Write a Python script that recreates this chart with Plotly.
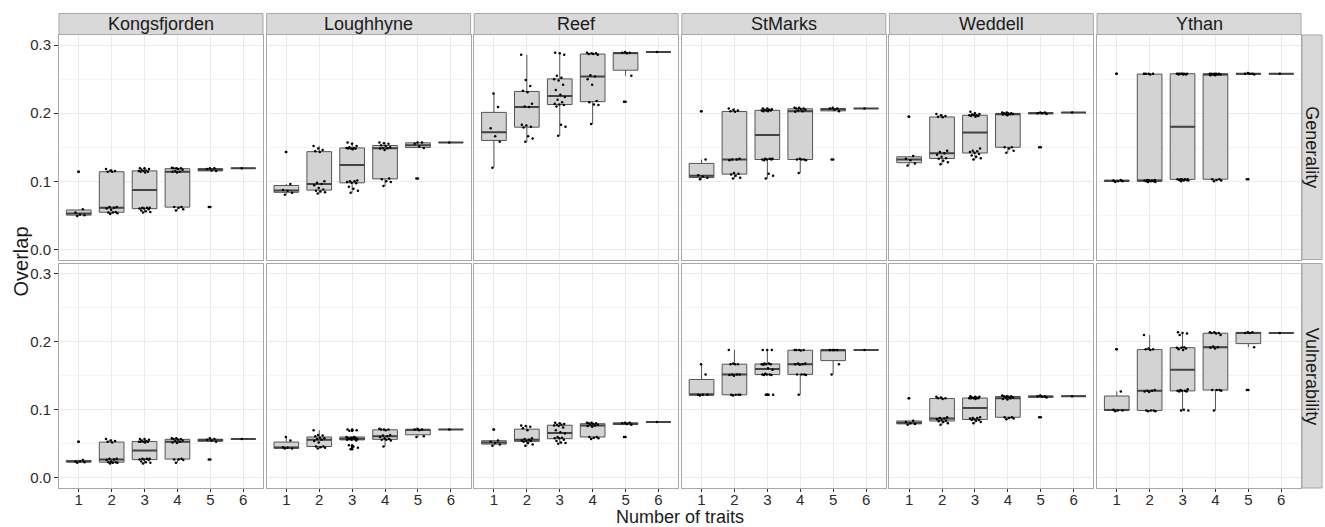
import numpy as np
import plotly.graph_objects as go

W, H = 1325, 527

sites = ["Kongsfjorden", "Loughhyne", "Reef", "StMarks", "Weddell", "Ythan"]
metrics = ["Generality", "Vulnerability"]
traits = [1, 2, 3, 4, 5, 6]
y_ticks = [0.0, 0.1, 0.2, 0.3]
y_tick_labels = ["0.0", "0.1", "0.2", "0.3"]
y_minor = [0.05, 0.15, 0.25]

# ---- Generality overlap, one list per number of traits ----
kong_gen = [
    [0.049, 0.050, 0.051, 0.054, 0.059, 0.114],
    [0.052, 0.053, 0.054, 0.054, 0.055, 0.058, 0.060, 0.061, 0.062, 0.062, 0.114, 0.114, 0.115, 0.116, 0.118],
    [0.054, 0.055, 0.056, 0.057, 0.059, 0.060, 0.060, 0.061, 0.061, 0.061, 0.113, 0.114, 0.114, 0.115, 0.115, 0.116, 0.117, 0.118, 0.119, 0.119],
    [0.057, 0.059, 0.061, 0.062, 0.062, 0.113, 0.114, 0.114, 0.115, 0.117, 0.118, 0.119, 0.119, 0.119, 0.120],
    [0.062, 0.115, 0.116, 0.118, 0.119, 0.119],
    [0.119],
]
lough_gen = [
    [0.080, 0.083, 0.086, 0.087, 0.096, 0.143],
    [0.082, 0.084, 0.085, 0.086, 0.088, 0.090, 0.094, 0.096, 0.098, 0.100, 0.143, 0.144, 0.146, 0.148, 0.152],
    [0.083, 0.086, 0.089, 0.092, 0.097, 0.098, 0.099, 0.100, 0.100, 0.101, 0.147, 0.148, 0.148, 0.148, 0.149, 0.149, 0.150, 0.152, 0.155, 0.157],
    [0.093, 0.099, 0.100, 0.103, 0.104, 0.146, 0.148, 0.1485, 0.149, 0.150, 0.152, 0.153, 0.155, 0.156, 0.157],
    [0.104, 0.149, 0.151, 0.155, 0.157, 0.157],
    [0.157],
]
reef_gen = [
    [0.120, 0.158, 0.166, 0.178, 0.209, 0.229],
    [0.158, 0.163, 0.166, 0.179, 0.180, 0.182, 0.183, 0.209, 0.210, 0.214, 0.231, 0.233, 0.240, 0.249, 0.286],
    [0.167, 0.180, 0.183, 0.210, 0.212, 0.213, 0.214, 0.216, 0.220, 0.224, 0.227, 0.234, 0.242, 0.248, 0.250, 0.252, 0.255, 0.286, 0.288, 0.289],
    [0.184, 0.212, 0.213, 0.216, 0.218, 0.242, 0.250, 0.254, 0.256, 0.286, 0.287, 0.287, 0.288, 0.288, 0.289],
    [0.217, 0.255, 0.288, 0.289, 0.289, 0.290],
    [0.290],
]
stm_gen = [
    [0.103, 0.105, 0.107, 0.109, 0.132, 0.203],
    [0.104, 0.105, 0.108, 0.110, 0.111, 0.112, 0.131, 0.132, 0.132, 0.133, 0.202, 0.203, 0.204, 0.205, 0.207],
    [0.104, 0.108, 0.111, 0.131, 0.132, 0.132, 0.132, 0.133, 0.133, 0.133, 0.203, 0.203, 0.204, 0.204, 0.204, 0.205, 0.205, 0.206, 0.207, 0.207],
    [0.112, 0.131, 0.132, 0.132, 0.132, 0.133, 0.202, 0.203, 0.204, 0.205, 0.206, 0.207, 0.207, 0.208, 0.208],
    [0.132, 0.203, 0.205, 0.207, 0.207, 0.208],
    [0.207],
]
wed_gen = [
    [0.123, 0.126, 0.131, 0.133, 0.137, 0.195],
    [0.125, 0.128, 0.130, 0.133, 0.134, 0.136, 0.139, 0.141, 0.143, 0.145, 0.194, 0.195, 0.196, 0.197, 0.199],
    [0.132, 0.134, 0.136, 0.138, 0.140, 0.142, 0.143, 0.144, 0.145, 0.148, 0.195, 0.196, 0.196, 0.197, 0.197, 0.197, 0.198, 0.199, 0.200, 0.202],
    [0.142, 0.145, 0.148, 0.150, 0.150, 0.197, 0.198, 0.1985, 0.199, 0.199, 0.1995, 0.200, 0.200, 0.201, 0.201],
    [0.150, 0.199, 0.200, 0.200, 0.201, 0.201],
    [0.201],
]
yth_gen = [
    [0.099, 0.100, 0.100, 0.101, 0.102, 0.258],
    [0.099, 0.099, 0.100, 0.100, 0.100, 0.101, 0.101, 0.101, 0.102, 0.102, 0.257, 0.258, 0.258, 0.258, 0.258],
    [0.100, 0.101, 0.101, 0.102, 0.102, 0.103, 0.103, 0.103, 0.103, 0.103, 0.257, 0.257, 0.257, 0.258, 0.258, 0.258, 0.258, 0.258, 0.258, 0.258],
    [0.100, 0.101, 0.102, 0.103, 0.103, 0.256, 0.256, 0.257, 0.257, 0.257, 0.258, 0.258, 0.258, 0.258, 0.258],
    [0.103, 0.257, 0.258, 0.258, 0.258, 0.259],
    [0.258],
]

# ---- Vulnerability overlap ----
kong_vul = [
    [0.022, 0.023, 0.024, 0.024, 0.026, 0.053],
    [0.021, 0.022, 0.022, 0.023, 0.023, 0.024, 0.026, 0.027, 0.028, 0.028, 0.052, 0.053, 0.054, 0.055, 0.057],
    [0.021, 0.022, 0.023, 0.024, 0.026, 0.027, 0.027, 0.028, 0.028, 0.028, 0.052, 0.053, 0.053, 0.053, 0.053, 0.054, 0.055, 0.056, 0.057, 0.057],
    [0.022, 0.026, 0.027, 0.027, 0.028, 0.051, 0.052, 0.053, 0.054, 0.055, 0.056, 0.057, 0.057, 0.058, 0.058],
    [0.027, 0.053, 0.055, 0.056, 0.057, 0.058],
    [0.057],
]
lough_vul = [
    [0.043, 0.043, 0.044, 0.045, 0.055, 0.060],
    [0.043, 0.044, 0.045, 0.046, 0.046, 0.052, 0.054, 0.056, 0.057, 0.058, 0.059, 0.061, 0.062, 0.063, 0.070],
    [0.042, 0.044, 0.046, 0.048, 0.055, 0.056, 0.056, 0.057, 0.057, 0.057, 0.058, 0.058, 0.059, 0.059, 0.060, 0.060, 0.069, 0.070, 0.070, 0.071],
    [0.046, 0.055, 0.056, 0.056, 0.057, 0.058, 0.060, 0.061, 0.062, 0.063, 0.070, 0.071, 0.071, 0.071, 0.072],
    [0.060, 0.061, 0.070, 0.071, 0.071, 0.072],
    [0.071],
]
reef_vul = [
    [0.047, 0.049, 0.051, 0.053, 0.055, 0.071],
    [0.047, 0.049, 0.051, 0.053, 0.054, 0.054, 0.055, 0.056, 0.057, 0.058, 0.070, 0.073, 0.075, 0.076, 0.077],
    [0.050, 0.051, 0.052, 0.054, 0.056, 0.058, 0.058, 0.059, 0.060, 0.065, 0.067, 0.070, 0.074, 0.076, 0.077, 0.078, 0.078, 0.079, 0.080, 0.081],
    [0.057, 0.058, 0.059, 0.060, 0.060, 0.075, 0.076, 0.077, 0.078, 0.078, 0.079, 0.080, 0.080, 0.081, 0.081],
    [0.060, 0.078, 0.079, 0.080, 0.081, 0.081],
    [0.082],
]
stm_vul = [
    [0.121, 0.122, 0.122, 0.122, 0.152, 0.167],
    [0.121, 0.122, 0.122, 0.122, 0.122, 0.150, 0.151, 0.152, 0.152, 0.152, 0.167, 0.167, 0.167, 0.168, 0.188],
    [0.122, 0.122, 0.122, 0.151, 0.151, 0.152, 0.152, 0.152, 0.153, 0.159, 0.161, 0.166, 0.167, 0.167, 0.167, 0.168, 0.168, 0.188, 0.188, 0.188],
    [0.122, 0.151, 0.152, 0.152, 0.152, 0.166, 0.167, 0.167, 0.168, 0.168, 0.187, 0.188, 0.188, 0.188, 0.188],
    [0.152, 0.167, 0.188, 0.188, 0.188, 0.188],
    [0.188],
]
wed_vul = [
    [0.078, 0.079, 0.080, 0.082, 0.084, 0.117],
    [0.078, 0.080, 0.082, 0.083, 0.084, 0.085, 0.086, 0.087, 0.088, 0.089, 0.116, 0.117, 0.117, 0.118, 0.119],
    [0.080, 0.082, 0.084, 0.085, 0.085, 0.086, 0.087, 0.088, 0.088, 0.089, 0.116, 0.117, 0.117, 0.117, 0.117, 0.118, 0.118, 0.119, 0.119, 0.120],
    [0.086, 0.087, 0.088, 0.089, 0.089, 0.115, 0.116, 0.117, 0.118, 0.118, 0.119, 0.120, 0.120, 0.120, 0.121],
    [0.089, 0.118, 0.119, 0.120, 0.120, 0.121],
    [0.120],
]
yth_vul = [
    [0.098, 0.099, 0.099, 0.100, 0.127, 0.189],
    [0.098, 0.098, 0.099, 0.099, 0.099, 0.126, 0.127, 0.128, 0.128, 0.129, 0.188, 0.189, 0.189, 0.190, 0.210],
    [0.099, 0.099, 0.100, 0.127, 0.127, 0.128, 0.128, 0.128, 0.129, 0.130, 0.188, 0.189, 0.190, 0.191, 0.191, 0.192, 0.210, 0.212, 0.213, 0.214],
    [0.099, 0.128, 0.129, 0.129, 0.129, 0.190, 0.191, 0.192, 0.193, 0.210, 0.212, 0.213, 0.213, 0.214, 0.214],
    [0.129, 0.192, 0.213, 0.213, 0.214, 0.214],
    [0.213],
]

panels = {
    ("Generality", "Kongsfjorden"): kong_gen,
    ("Generality", "Loughhyne"): lough_gen,
    ("Generality", "Reef"): reef_gen,
    ("Generality", "StMarks"): stm_gen,
    ("Generality", "Weddell"): wed_gen,
    ("Generality", "Ythan"): yth_gen,
    ("Vulnerability", "Kongsfjorden"): kong_vul,
    ("Vulnerability", "Loughhyne"): lough_vul,
    ("Vulnerability", "Reef"): reef_vul,
    ("Vulnerability", "StMarks"): stm_vul,
    ("Vulnerability", "Weddell"): wed_vul,
    ("Vulnerability", "Ythan"): yth_vul,
}

# ---- geometry (pixels) ----
col_left = [59 + c * 207.6 for c in range(6)]
panel_w = 204.0
row_top = [35.0, 263.5]
panel_h = 224.5
strip_top = 13.5
strip_right_x = (1302.0, 1322.0)

FONT = "Liberation Sans, Arial, Helvetica, sans-serif"
TXT = "#1a1a1a"
TICK_TXT = "#2b2b2b"
BOX_FILL = "#D3D3D3"
BOX_LINE = "#555555"
BORDER = "#A8A8A8"


def fx(px):
    return px / W


def fy(py):
    return 1 - py / H


fig = go.Figure()
axes = {}
shapes = []
annotations = []

for r, m in enumerate(metrics):
    for c, s in enumerate(sites):
        i = r * 6 + c + 1
        xa = "x" if i == 1 else f"x{i}"
        ya = "y" if i == 1 else f"y{i}"
        groups = panels[(m, s)]
        q1s, meds, q3s, lows, highs = [], [], [], [], []
        med_x, med_y = [], []
        out_x, out_y = [], []
        jit_x, jit_y = [], []
        for k, vals in zip(traits, groups):
            v = np.array(vals, dtype=float)
            q1, med, q3 = np.percentile(v, [25, 50, 75])
            iqr = q3 - q1
            lo_f, hi_f = q1 - 1.5 * iqr, q3 + 1.5 * iqr
            inside = v[(v >= lo_f - 1e-12) & (v <= hi_f + 1e-12)]
            q1s.append(q1)
            meds.append(med)
            q3s.append(q3)
            lows.append(inside.min())
            highs.append(inside.max())
            med_x += [k - 0.375, k + 0.375, None]
            med_y += [med, med, None]
            outs = v[(v < lo_f - 1e-12) | (v > hi_f + 1e-12)]
            out_x += [k] * len(outs)
            out_y += list(outs)
            offs = ((np.arange(len(v)) * 0.618034 + 0.37) % 1.0 - 0.5) * 0.36
            jit_x += list(k + offs)
            jit_y += list(v)

        fig.add_trace(go.Box(
            x=traits, q1=q1s, median=meds, q3=q3s,
            lowerfence=lows, upperfence=highs,
            width=0.75, whiskerwidth=0, boxpoints=False,
            fillcolor=BOX_FILL, line=dict(color=BOX_LINE, width=1),
            xaxis=xa, yaxis=ya, showlegend=False, hoverinfo="skip"))
        fig.add_trace(go.Scatter(
            x=med_x, y=med_y, mode="lines",
            line=dict(color="#444444", width=2),
            xaxis=xa, yaxis=ya, showlegend=False, hoverinfo="skip"))
        fig.add_trace(go.Scatter(
            x=out_x, y=out_y, mode="markers",
            marker=dict(color="black", size=2.5),
            xaxis=xa, yaxis=ya, showlegend=False, hoverinfo="skip"))
        fig.add_trace(go.Scatter(
            x=jit_x, y=jit_y, mode="markers",
            marker=dict(color="black", size=2.5),
            xaxis=xa, yaxis=ya, showlegend=False, hoverinfo="skip"))

        x0 = col_left[c]
        x1 = x0 + panel_w
        y0 = row_top[r]
        y1 = y0 + panel_h
        xkey = "xaxis" if i == 1 else f"xaxis{i}"
        ykey = "yaxis" if i == 1 else f"yaxis{i}"
        axes[xkey] = dict(
            domain=[fx(x0), fx(x1)], range=[0.4, 6.6], anchor=ya,
            tickvals=traits, ticktext=[str(t) for t in traits],
            showticklabels=(r == 1), ticks="outside" if r == 1 else "",
            ticklen=3, tickcolor="#333333", ticklabelstandoff=-5,
            tickfont=dict(size=15, color=TICK_TXT, family=FONT),
            showgrid=True, gridcolor="#EBEBEB", gridwidth=1,
            zeroline=False, showline=True, mirror=True,
            linecolor=BORDER, linewidth=1, fixedrange=True)
        axes[ykey] = dict(
            domain=[fy(y1), fy(y0)], range=[-0.015, 0.315], anchor=xa,
            tickvals=y_ticks, ticktext=y_tick_labels,
            showticklabels=(c == 0), ticks="outside" if c == 0 else "",
            ticklen=4, tickcolor="#333333",
            tickfont=dict(size=15, color=TICK_TXT, family=FONT),
            showgrid=True, gridcolor="#EBEBEB", gridwidth=1,
            minor=dict(tickvals=y_minor, showgrid=True,
                       gridcolor="#F5F5F5", gridwidth=1, ticks=""),
            zeroline=False, showline=True, mirror=True,
            linecolor=BORDER, linewidth=1, fixedrange=True)

# column strips (top)
for c, s in enumerate(sites):
    x0 = col_left[c]
    x1 = x0 + panel_w
    shapes.append(dict(type="rect", xref="paper", yref="paper",
                       x0=fx(x0), x1=fx(x1), y0=fy(row_top[0] - 0.5), y1=fy(strip_top),
                       fillcolor="#D9D9D9", line=dict(color=BORDER, width=1)))
    annotations.append(dict(text=s, xref="paper", yref="paper",
                            x=fx((x0 + x1) / 2), y=fy((strip_top + row_top[0]) / 2),
                            showarrow=False, xanchor="center", yanchor="middle",
                            font=dict(size=18, color=TXT, family=FONT)))

# row strips (right)
for r, m in enumerate(metrics):
    y0 = row_top[r]
    y1 = y0 + panel_h
    shapes.append(dict(type="rect", xref="paper", yref="paper",
                       x0=fx(strip_right_x[0]), x1=fx(strip_right_x[1]),
                       y0=fy(y1), y1=fy(y0),
                       fillcolor="#D9D9D9", line=dict(color=BORDER, width=1)))
    annotations.append(dict(text=m, xref="paper", yref="paper",
                            x=fx(sum(strip_right_x) / 2), y=fy((y0 + y1) / 2),
                            showarrow=False, textangle=90,
                            xanchor="center", yanchor="middle",
                            font=dict(size=18, color=TXT, family=FONT)))

# axis titles
annotations.append(dict(text="Overlap", xref="paper", yref="paper",
                        x=fx(20), y=fy((row_top[0] + row_top[1] + panel_h) / 2),
                        showarrow=False, textangle=-90,
                        xanchor="center", yanchor="middle",
                        font=dict(size=20, color=TXT, family=FONT)))
annotations.append(dict(text="Number of traits", xref="paper", yref="paper",
                        x=fx((col_left[0] + col_left[5] + panel_w) / 2), y=fy(528),
                        showarrow=False, xanchor="center", yanchor="bottom",
                        borderpad=0,
                        font=dict(size=18, color=TXT, family=FONT)))

fig.update_layout(
    width=W, height=H,
    margin=dict(l=0, r=0, t=0, b=0),
    paper_bgcolor="white", plot_bgcolor="white",
    font=dict(family=FONT, color=TXT),
    showlegend=False,
    shapes=shapes, annotations=annotations,
    **axes)

fig.write_html("out.html")
